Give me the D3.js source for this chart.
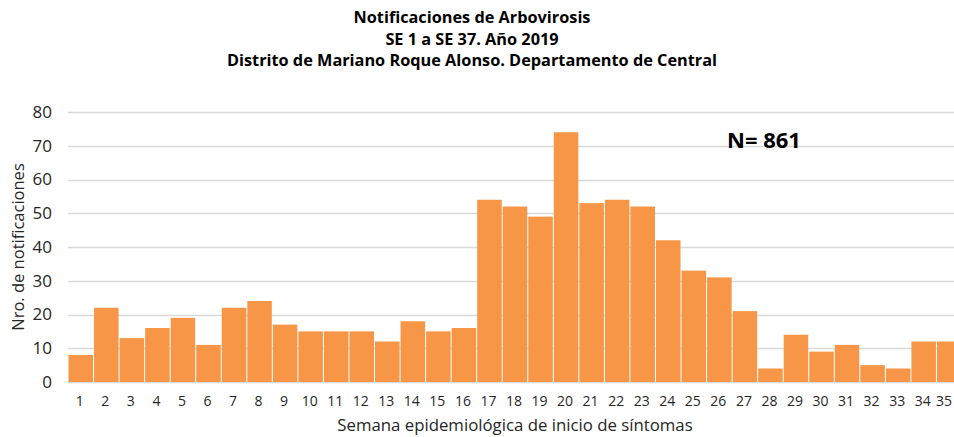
<!DOCTYPE html>
<html>
<head>
<meta charset="utf-8">
<script src="https://cdn.jsdelivr.net/npm/d3@7"></script>
<style>
  body { margin: 0; background: #fff; }
  text { font-family: "Open Sans", "Noto Sans", sans-serif; fill: #262626; }
</style>
</head>
<body>
<div id="chart"></div>
<script>
// Weeks visible in the picture (the original is cut at the right edge)
const weeks = d3.range(1, 36).map(String);
const counts = [8, 22, 13, 16, 19, 11, 22, 24, 17, 15, 15, 15, 12, 18, 15, 16,
                54, 52, 49, 74, 53, 54, 52, 42, 33, 31, 21, 4, 14, 9, 11, 5, 4, 12, 12];
const yTicks = [0, 10, 20, 30, 40, 50, 60, 70, 80];
const titleLines = [
    "Notificaciones de Arbovirosis",
    "SE 1 a SE 37. Año 2019",
    "Distrito de Mariano Roque Alonso. Departamento de Central"
];
const totalN = 861;

let width = 954, height = 437;
let margin = {top: 112, right: -8, bottom: 55, left: 68};

let svg = d3.select("#chart").append("svg")
    .attr("width", width)
    .attr("height", height);

let x = d3.scaleBand()
    .domain(weeks)
    .range([margin.left, width - margin.right])
    .paddingInner(0.04)
    .paddingOuter(0.02);

let y = d3.scaleLinear()
    .domain([0, 80])
    .range([height - margin.bottom, margin.top]);

// gridlines
svg.append("g")
    .selectAll("line")
    .data(yTicks)
    .join("line")
        .attr("x1", margin.left)
        .attr("x2", width)
        .attr("y1", d => Math.round(y(d)) + 0.5)
        .attr("y2", d => Math.round(y(d)) + 0.5)
        .attr("stroke", "#d9d9d9")
        .attr("stroke-width", 1.5);

// y tick labels
svg.append("g")
    .selectAll("text")
    .data(yTicks)
    .join("text")
        .attr("x", 52)
        .attr("y", d => y(d))
        .attr("dy", "0.35em")
        .attr("text-anchor", "end")
        .style("font-size", "17px")
        .text(d => d);

// bars
svg.append("g")
    .selectAll("rect")
    .data(counts)
    .join("rect")
        .attr("x", (d, i) => x(weeks[i]))
        .attr("y", d => y(d))
        .attr("width", x.bandwidth())
        .attr("height", d => y(0) - y(d))
        .attr("fill", "#f79646");

// x tick labels (last one kept inside the window)
svg.append("g")
    .selectAll("text")
    .data(weeks)
    .join("text")
        .attr("x", d => Math.min(x(d) + x.bandwidth() / 2 - 1, width - 10))
        .attr("y", 406)
        .attr("text-anchor", "middle")
        .style("font-size", "14px")
        .text(d => d);

// axis titles
svg.append("text")
    .attr("x", 515)
    .attr("y", 431)
    .attr("text-anchor", "middle")
    .style("font-size", "16.8px")
    .text("Semana epidemiológica de inicio de síntomas");

svg.append("text")
    .attr("transform", "translate(24," + ((y(0) + y(80)) / 2) + ") rotate(-90)")
    .attr("text-anchor", "middle")
    .style("font-size", "16.5px")
    .text("Nro. de notificaciones");

// title
svg.append("g")
    .selectAll("text")
    .data(titleLines)
    .join("text")
        .attr("x", 472)
        .attr("y", (d, i) => 23 + i * 21.5)
        .attr("text-anchor", "middle")
        .style("font-size", "16.3px")
        .style("font-weight", "bold")
        .style("fill", "#000")
        .text(d => d);

// total annotation
svg.append("text")
    .attr("x", 727)
    .attr("y", 148)
    .style("font-size", "22px")
    .style("font-weight", "bold")
    .style("fill", "#000")
    .text("N= " + totalN);
</script>
</body>
</html>
